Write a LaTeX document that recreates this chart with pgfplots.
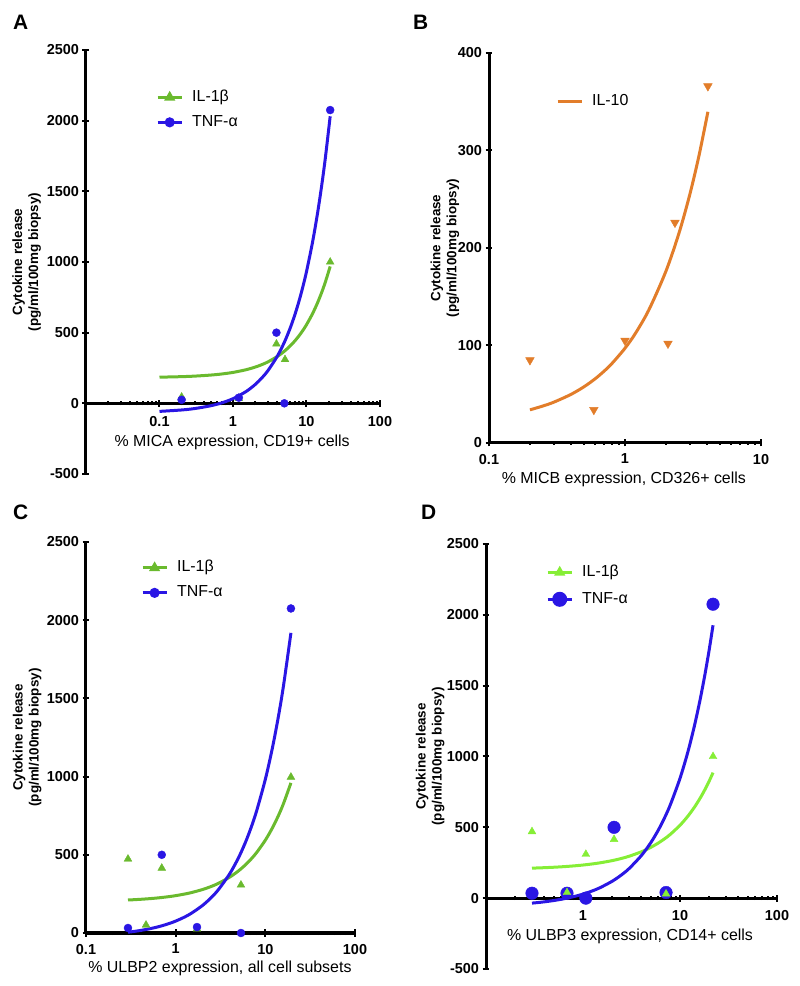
\documentclass[border=0pt]{standalone}
\usepackage{fontspec}
\setmainfont{Liberation Sans}
\usepackage{pgfplots}
\pgfplotsset{compat=1.18}

\definecolor{ilgreen}{RGB}{106,186,46}
\definecolor{tnfblue}{RGB}{42,22,228}
\definecolor{ilorange}{RGB}{226,125,42}
\definecolor{ilgreenD}{RGB}{134,238,54}

\pgfdeclareplotmark{dtri}{%
  \pgfpathmoveto{\pgfpoint{0pt}{-\pgfplotmarksize}}%
  \pgfpathlineto{\pgfpoint{0.866\pgfplotmarksize}{0.5\pgfplotmarksize}}%
  \pgfpathlineto{\pgfpoint{-0.866\pgfplotmarksize}{0.5\pgfplotmarksize}}%
  \pgfpathclose\pgfusepathqfillstroke}

\tikzset{xlab/.style={anchor=base, font=\fontsize{16}{19}\selectfont}}

\pgfplotsset{
  scale only axis,
  clip=false,
  every inner x axis line/.append style={-},
  every outer x axis line/.append style={-},
  every inner y axis line/.append style={-},
  every outer y axis line/.append style={-},
  every tick/.style={black, line width=2bp},
  major tick length=7bp,
  minor tick length=4bp,
  tick align=outside,
  tick label style={font=\bfseries\fontsize{14.5}{16}\selectfont},
  every axis y label/.style={rotate=90, anchor=center, align=center,
    font=\bfseries\fontsize{13.5}{16}\selectfont},
  legend style={draw=none, fill=none, anchor=north west,
    font=\fontsize{16}{19}\selectfont, row sep=5bp,
    nodes={text height=12bp, text depth=4bp}},
  legend cell align=left,
  legend image code/.code={%
    \draw[mark repeat=2,mark phase=2] plot coordinates {(0bp,0bp) (12bp,0bp) (24bp,0bp)};
    \path (31bp,0bp);},
}

\begin{document}
\begin{tikzpicture}
\useasboundingbox (0bp,0bp) rectangle (800bp,986bp);

% Panel letters
\node[inner sep=0pt, anchor=base west, font=\bfseries\fontsize{21}{21}\selectfont] at (13bp,956bp) {A};
\node[inner sep=0pt, anchor=base west, font=\bfseries\fontsize{21}{21}\selectfont] at (413bp,956bp) {B};
\node[inner sep=0pt, anchor=base west, font=\bfseries\fontsize{21}{21}\selectfont] at (13bp,466bp) {C};
\node[inner sep=0pt, anchor=base west, font=\bfseries\fontsize{21}{21}\selectfont] at (421bp,466bp) {D};

% ---------------- Panel A ----------------
\begin{axis}[xmode=log,
  at={(86bp,512bp)}, anchor=south west, width=294bp, height=424bp,
  axis x line=middle, axis y line=left,
  axis line style={-, line width=3bp, black},
  xmin=0.01, xmax=100, ymin=-500, ymax=2500,
  xtick={0.01,0.1,1,10,100}, xticklabels={,0.1,1,10,100},
  xticklabel style={yshift=-6bp},
  minor xtick={0.02,0.03,0.04,0.05,0.06,0.07,0.08,0.09,0.2,0.3,0.4,0.5,0.6,0.7,0.8,0.9,2,3,4,5,6,7,8,9,20,30,40,50,60,70,80,90},
  ytick={-500,0,500,1000,1500,2000,2500},
  yticklabels={-500,0,500,1000,1500,2000,2500},
  xlabel={\% MICA expression, CD19+ cells},
  xlabel style={xlab, at={(axis description cs:0.497,0.066)}},
  ylabel={Cytokine release\\(pg/ml/100mg biopsy)},
  ylabel style={at={(axis description cs:-0.202,0.5)}},
  legend style={at={(axis description cs:0.228,0.917)}},
]
\addlegendimage{ilgreen, line width=3bp, mark=triangle*, mark size=3.5bp}
\addlegendentry{IL-1β}
\addlegendimage{tnfblue, line width=3bp, mark=*, mark size=3.5bp}
\addlegendentry{TNF-α}
\addplot[only marks, forget plot, mark=triangle*, mark size=4.5bp, color=ilgreen] coordinates {
(0.2,45) (1.2,35) (3.9,420) (5.1,310) (21,1000)};
\addplot[only marks, forget plot, mark=*, mark size=4bp, color=tnfblue] coordinates {
(0.2,25) (1.2,40) (3.9,500) (5.0,0) (21,2075)};
\addplot[line width=3bp, no markers, smooth, forget plot, color=ilgreen] coordinates {
(0.1,185.0) (0.2,188.7) (0.3,192.5) (0.5,200.0) (0.7,207.5) (1,218.7) (1.5,237.5)
(2,256.2) (2.5,275.0) (3,293.7) (4,331.2) (5,368.7) (6,406.2) (7,443.7) (8,481.2)
(9,518.7) (10,556.2) (12,631.2) (14,706.2) (16,781.2) (18,856.2) (21,968.7)};
\addplot[line width=3bp, no markers, smooth, forget plot, color=tnfblue] coordinates {
(0.1,-57.0) (0.2,-47.0) (0.3,-37.0) (0.5,-17.0) (0.7,2.9) (1,32.9) (1.5,82.9)
(2,132.8) (2.5,182.8) (3,232.7) (4,332.6) (5,432.5) (6,532.4) (7,632.3) (8,732.2)
(9,832.1) (10,932.0) (12,1131.8) (14,1331.6) (16,1531.4) (18,1731.2) (21,2030.9)};
\end{axis}

% ---------------- Panel B ----------------
\begin{axis}[xmode=log,
  at={(489bp,543bp)}, anchor=south west, width=272bp, height=390bp,
  axis x line=bottom, axis y line=left,
  axis line style={-, line width=3bp, black},
  xmin=0.1, xmax=10, ymin=0, ymax=400,
  xtick={0.1,1,10}, xticklabels={0.1,1,10},
  xticklabel style={yshift=-4bp},
  minor xtick={0.2,0.3,0.4,0.5,0.6,0.7,0.8,0.9,2,3,4,5,6,7,8,9},
  ytick={0,100,200,300,400},
  yticklabels={0,100,200,300,400},
  xlabel={\% MICB expression, CD326+ cells},
  xlabel style={xlab, at={(axis description cs:0.496,-0.103)}},
  ylabel={Cytokine release\\(pg/ml/100mg biopsy)},
  ylabel style={at={(axis description cs:-0.162,0.5)}},
  legend style={at={(axis description cs:0.235,0.908)}},
]
\addlegendimage{ilorange, line width=3bp}
\addlegendentry{IL-10}
\addplot[only marks, forget plot, mark=dtri, mark size=5bp, color=ilorange] coordinates {
(0.2,85) (0.59,34) (1.0,105) (2.07,102) (2.33,226) (4.07,366)};
\addplot[line width=3bp, no markers, smooth, forget plot, color=ilorange] coordinates {
(0.2,34.0) (0.25,38.0) (0.3,41.9) (0.4,49.8) (0.5,57.7) (0.6,65.6) (0.7,73.5)
(0.8,81.4) (1,97.2) (1.2,113.0) (1.5,136.7) (2,176.2) (2.5,215.7) (3,255.2)
(3.5,294.7) (4.07,339.7)};
\end{axis}

% ---------------- Panel C ----------------
\begin{axis}[xmode=log,
  at={(86bp,53bp)}, anchor=south west, width=269bp, height=391bp,
  axis x line=bottom, axis y line=left,
  axis line style={-, line width=3bp, black},
  xmin=0.1, xmax=100, ymin=0, ymax=2500,
  xtick={0.1,1,10,100}, xticklabels={0.1,1,10,100},
  xticklabel style={yshift=-4bp},
  minor xtick={0.2,0.3,0.4,0.5,0.6,0.7,0.8,0.9,2,3,4,5,6,7,8,9,20,30,40,50,60,70,80,90},
  ytick={0,500,1000,1500,2000,2500},
  yticklabels={0,500,1000,1500,2000,2500},
  xlabel={\% ULBP2 expression, all cell subsets},
  xlabel style={xlab, at={(axis description cs:0.498,-0.102)}},
  ylabel={Cytokine release\\(pg/ml/100mg biopsy)},
  ylabel style={at={(axis description cs:-0.219,0.5)}},
  legend style={at={(axis description cs:0.193,0.965)}},
]
\addlegendimage{ilgreen, line width=3bp, mark=triangle*, mark size=3.5bp}
\addlegendentry{IL-1β}
\addlegendimage{tnfblue, line width=3bp, mark=*, mark size=3.5bp}
\addlegendentry{TNF-α}
\addplot[only marks, forget plot, mark=triangle*, mark size=4.5bp, color=ilgreen] coordinates {
(0.294,473) (0.467,51) (0.70,415) (1.73,26) (5.35,307) (19.3,997)};
\addplot[only marks, forget plot, mark=*, mark size=4bp, color=tnfblue] coordinates {
(0.294,32) (0.70,500) (1.73,38) (5.35,0) (19.3,2075)};
\addplot[line width=3bp, no markers, smooth, forget plot, color=ilgreen] coordinates {
(0.294,211.0) (0.35,213.2) (0.4,215.2) (0.5,219.1) (0.6,223.0) (0.7,227.0)
(0.85,232.9) (1,238.8) (1.25,248.7) (1.5,258.5) (2,278.2) (2.5,297.9) (3,317.6)
(4,357.0) (5,396.4) (6,435.8) (7,475.2) (8,514.6) (10,593.4) (12,672.2)
(14,751.0) (16,829.8) (19.3,959.8)};
\addplot[line width=3bp, no markers, smooth, forget plot, color=tnfblue] coordinates {
(0.294,5.0) (0.35,10.6) (0.4,15.7) (0.5,25.8) (0.6,35.8) (0.7,45.9)
(0.85,61.0) (1,76.1) (1.25,101.3) (1.5,126.5) (2,176.8) (2.5,227.2) (3,277.5)
(4,378.2) (5,478.9) (6,579.6) (7,680.3) (8,781.0) (10,982.4) (12,1183.8)
(14,1385.2) (16,1586.6) (19.3,1918.9)};
\end{axis}

% ---------------- Panel D ----------------
\begin{axis}[xmode=log,
  at={(486bp,17bp)}, anchor=south west, width=291bp, height=425bp,
  axis x line=middle, axis y line=left,
  axis line style={-, line width=3bp, black},
  xmin=0.1, xmax=100, ymin=-500, ymax=2500,
  xtick={0.1,1,10,100}, xticklabels={,1,10,100},
  xticklabel style={yshift=-5bp},
  minor xtick={0.2,0.3,0.4,0.5,0.6,0.7,0.8,0.9,2,3,4,5,6,7,8,9,20,30,40,50,60,70,80,90},
  ytick={-500,0,500,1000,1500,2000,2500},
  yticklabels={-500,0,500,1000,1500,2000,2500},
  xlabel={\% ULBP3 expression, CD14+ cells},
  xlabel style={xlab, at={(axis description cs:0.495,0.068)}},
  ylabel={Cytokine release\\(pg/ml/100mg biopsy)},
  ylabel style={at={(axis description cs:-0.192,0.5)}},
  legend style={at={(axis description cs:0.196,0.962)}, row sep=7bp},
]
\addlegendimage{ilgreenD, line width=3bp, mark=triangle*, mark size=3.5bp}
\addlegendentry{IL-1β}
\addlegendimage{tnfblue, line width=3bp, mark=*, mark size=6bp}
\addlegendentry{TNF-α}
\addplot[only marks, forget plot, mark=*, mark size=6.3bp, color=tnfblue] coordinates {
(0.298,35) (0.684,35) (1.07,0) (2.09,500) (7.18,40) (21.9,2075)};
\addplot[only marks, forget plot, mark=triangle*, mark size=4.5bp, color=ilgreenD] coordinates {
(0.298,470) (0.684,40) (1.07,310) (2.09,415) (7.18,30) (21.9,1000)};
\addplot[line width=3bp, no markers, smooth, forget plot, color=ilgreenD] coordinates {
(0.298,212.0) (0.35,213.6) (0.4,215.2) (0.5,218.3) (0.6,221.4) (0.7,224.5)
(0.85,229.2) (1,233.9) (1.25,241.7) (1.5,249.5) (2,265.1) (2.5,280.7) (3,296.3)
(4,327.5) (5,358.7) (6,389.9) (7,421.1) (8,452.3) (10,514.7) (12,577.1)
(14,639.5) (16,701.9) (18,764.3) (20,826.7) (21.9,886.0)};
\addplot[line width=3bp, no markers, smooth, forget plot, color=tnfblue] coordinates {
(0.298,-35.0) (0.35,-30.3) (0.4,-25.8) (0.5,-16.7) (0.6,-7.6) (0.7,1.5)
(0.85,15.1) (1,28.7) (1.25,51.4) (1.5,74.1) (2,119.5) (2.5,164.9) (3,210.3)
(4,301.1) (5,391.9) (6,482.7) (7,573.5) (8,664.3) (10,845.9) (12,1027.5)
(14,1209.1) (16,1390.7) (18,1572.3) (20,1753.9) (21.9,1926.4)};
\end{axis}
\end{tikzpicture}
\end{document}
